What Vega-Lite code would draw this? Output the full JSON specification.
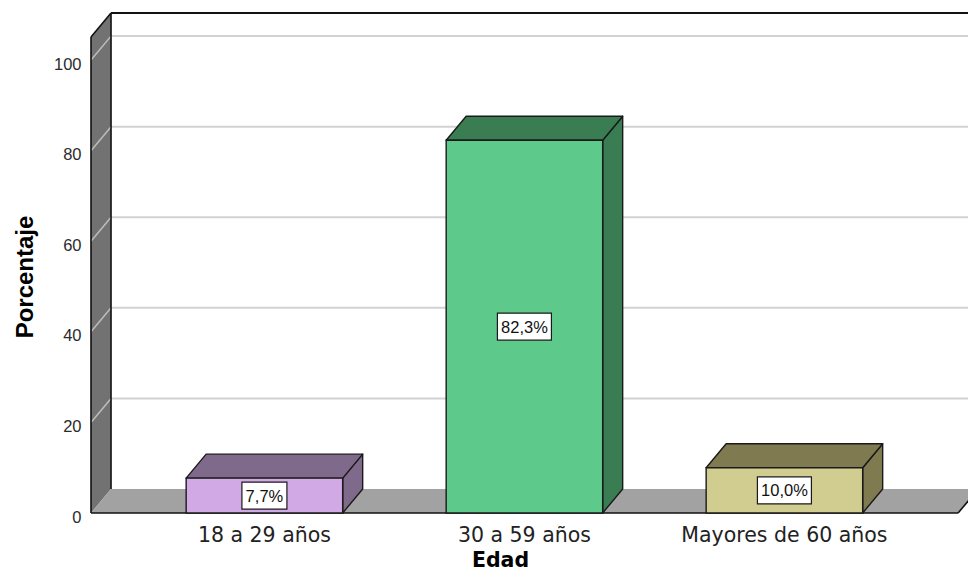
{
  "$schema": "https://vega.github.io/schema/vega-lite/v6.json",
  "width": 877,
  "height": 500,
  "autosize": {"type": "none"},
  "padding": {"left": 91, "top": 13, "right": 0, "bottom": 58},
  "background": "white",
  "config": {"view": {"stroke": null}},
  "resolve": {"axis": {"x": "independent", "y": "independent"}},
  "params": [
    {"name": "dx", "value": 0.07692},
    {"name": "dz", "value": 5.298},
    {"name": "hw", "value": 0.301},
    {"name": "x0", "value": -0.667}
  ],
  "datasets": {
    "edad": [
      {"edad": "18 a 29 años", "pct": 7.7},
      {"edad": "30 a 59 años", "pct": 82.3},
      {"edad": "Mayores de 60 años", "pct": 10.0}
    ],
    "grid": [{"v": 20}, {"v": 40}, {"v": 60}, {"v": 80}, {"v": 100}]
  },
  "layer": [
    {
      "description": "left wall",
      "data": {"values": [{}]},
      "transform": [
        {"calculate": "0", "as": "f"},
        {"calculate": "1", "as": "b"},
        {"fold": ["f", "b"], "as": ["face", "k"]},
        {"calculate": "x0 + datum.k * dx", "as": "wx"},
        {"calculate": "datum.k * dz", "as": "wy"},
        {"calculate": "105.1 + datum.k * dz", "as": "wy2"}
      ],
      "mark": {"type": "area", "orient": "vertical", "color": "#727272"},
      "encoding": {
        "x": {
          "field": "wx", "type": "quantitative",
          "scale": {"domain": [-0.667, 2.7061], "nice": false, "zero": false},
          "axis": {
            "title": "Edad", "labels": false, "ticks": false, "domain": false, "grid": false,
            "titleX": 409, "titleY": 53, "titleBaseline": "alphabetic", "titleAlign": "center",
            "titleFont": "DejaVu Sans", "titleFontSize": 20.5, "titleFontWeight": "bold", "titleColor": "#000000"
          }
        },
        "y": {
          "field": "wy", "type": "quantitative",
          "scale": {"domain": [0, 110.4], "nice": false, "zero": true},
          "axis": {
            "title": "Porcentaje", "values": [0, 20, 40, 60, 80, 100],
            "ticks": false, "domain": false, "grid": false,
            "labelFont": "Liberation Sans", "labelFontSize": 16.5, "labelColor": "#2b2b2b",
            "labelPadding": 10, "labelOffset": 4,
            "titleFont": "Liberation Sans", "titleFontSize": 24, "titleFontWeight": "bold",
            "titleColor": "#000000", "titleX": -58.5, "titleY": 263.5, "titleAngle": 270,
            "titleBaseline": "alphabetic", "titleAlign": "center"
          }
        },
        "y2": {"field": "wy2"}
      }
    },
    {
      "description": "floor",
      "data": {"values": [{}]},
      "transform": [
        {"calculate": "0", "as": "f"},
        {"calculate": "1", "as": "b"},
        {"fold": ["f", "b"], "as": ["face", "k"]},
        {"calculate": "x0 + datum.k * dx", "as": "fx"},
        {"calculate": "2.668 + datum.k * dx", "as": "fx2"},
        {"calculate": "datum.k * dz", "as": "fy"}
      ],
      "mark": {"type": "area", "orient": "horizontal", "color": "#a2a2a2"},
      "encoding": {
        "y": {"field": "fy", "type": "quantitative", "axis": null},
        "x": {"field": "fx", "type": "quantitative", "axis": null},
        "x2": {"field": "fx2"}
      }
    },
    {
      "description": "gridlines on the back wall",
      "data": {"name": "grid"},
      "transform": [{"calculate": "datum.v + dz", "as": "gy"}],
      "mark": {"type": "rule", "color": "#d2d2d2", "strokeWidth": 2},
      "encoding": {
        "x": {"datum": -0.59, "type": "quantitative", "axis": null},
        "x2": {"datum": 2.9},
        "y": {"field": "gy", "type": "quantitative", "axis": null}
      }
    },
    {
      "description": "gridlines across the left wall",
      "data": {"name": "grid"},
      "transform": [{"calculate": "datum.v + dz", "as": "gy"}],
      "mark": {"type": "rule", "color": "#bdbdbd", "strokeWidth": 1.5},
      "encoding": {
        "x": {"datum": -0.667, "type": "quantitative", "axis": null},
        "x2": {"datum": -0.59},
        "y": {"field": "v", "type": "quantitative", "axis": null},
        "y2": {"field": "gy"}
      }
    },
    {
      "data": {"values": [{}]},
      "mark": {"type": "rule", "color": "#111111", "strokeWidth": 1.6},
      "encoding": {
        "x": {"datum": -0.667, "type": "quantitative", "axis": null},
        "y": {"datum": 0, "type": "quantitative", "axis": null},
        "y2": {"datum": 105.1}
      }
    },
    {
      "data": {"values": [{}]},
      "mark": {"type": "rule", "color": "#111111", "strokeWidth": 1.6},
      "encoding": {
        "x": {"datum": -0.59, "type": "quantitative", "axis": null},
        "y": {"datum": 5.298, "type": "quantitative", "axis": null},
        "y2": {"datum": 110.4}
      }
    },
    {
      "data": {"values": [{}]},
      "mark": {"type": "rule", "color": "#111111", "strokeWidth": 1.6},
      "encoding": {
        "x": {"datum": -0.667, "type": "quantitative", "axis": null},
        "x2": {"datum": -0.59},
        "y": {"datum": 105.1, "type": "quantitative", "axis": null},
        "y2": {"datum": 110.4}
      }
    },
    {
      "data": {"values": [{}]},
      "mark": {"type": "rule", "color": "#111111", "strokeWidth": 2},
      "encoding": {
        "x": {"datum": -0.59, "type": "quantitative", "axis": null},
        "x2": {"datum": 2.9},
        "y": {"datum": 110.4, "type": "quantitative", "axis": null}
      }
    },
    {
      "data": {"values": [{}]},
      "mark": {"type": "rule", "color": "#111111", "strokeWidth": 1.6},
      "encoding": {
        "x": {"datum": -0.667, "type": "quantitative", "axis": null},
        "x2": {"datum": 2.668},
        "y": {"datum": 0, "type": "quantitative", "axis": null}
      }
    },
    {
      "data": {"values": [{}]},
      "mark": {"type": "rule", "color": "#111111", "strokeWidth": 1.6},
      "encoding": {
        "x": {"datum": 2.668, "type": "quantitative", "axis": null},
        "x2": {"datum": 2.745},
        "y": {"datum": 0, "type": "quantitative", "axis": null},
        "y2": {"datum": 5.298}
      }
    },
    {
      "description": "right side faces of the bars",
      "data": {"name": "edad"},
      "transform": [
        {"window": [{"op": "row_number", "as": "rn"}]},
        {"calculate": "datum.rn - 1", "as": "i"},
        {"calculate": "0", "as": "f"},
        {"calculate": "1", "as": "b"},
        {"fold": ["f", "b"], "as": ["face", "k"]},
        {"calculate": "datum.i + hw + datum.k * dx", "as": "sx"},
        {"calculate": "datum.k * dz", "as": "sy"},
        {"calculate": "datum.pct + datum.k * dz", "as": "sy2"}
      ],
      "mark": {"type": "area", "orient": "vertical", "stroke": "#1a1a1a", "strokeWidth": 1.4, "strokeJoin": "round"},
      "encoding": {
        "x": {"field": "sx", "type": "quantitative", "axis": null},
        "y": {"field": "sy", "type": "quantitative", "axis": null},
        "y2": {"field": "sy2"},
        "color": {
          "field": "edad", "type": "nominal", "legend": null,
          "scale": {"domain": ["18 a 29 años", "30 a 59 años", "Mayores de 60 años"], "range": ["#806a8c", "#3a7d53", "#7f7a50"]}
        }
      }
    },
    {
      "description": "top faces of the bars",
      "data": {"name": "edad"},
      "transform": [
        {"window": [{"op": "row_number", "as": "rn"}]},
        {"calculate": "datum.rn - 1", "as": "i"},
        {"calculate": "0", "as": "f"},
        {"calculate": "1", "as": "b"},
        {"fold": ["f", "b"], "as": ["face", "k"]},
        {"calculate": "datum.i - hw + datum.k * dx", "as": "tx"},
        {"calculate": "datum.i + hw + datum.k * dx", "as": "tx2"},
        {"calculate": "datum.pct + datum.k * dz", "as": "ty"}
      ],
      "mark": {"type": "area", "orient": "horizontal", "stroke": "#1a1a1a", "strokeWidth": 1.4, "strokeJoin": "round"},
      "encoding": {
        "y": {"field": "ty", "type": "quantitative", "axis": null},
        "x": {"field": "tx", "type": "quantitative", "axis": null},
        "x2": {"field": "tx2"},
        "color": {
          "field": "edad", "type": "nominal", "legend": null,
          "scale": {"domain": ["18 a 29 años", "30 a 59 años", "Mayores de 60 años"], "range": ["#806a8c", "#3a7d53", "#7f7a50"]}
        }
      }
    },
    {
      "description": "front faces of the bars",
      "data": {"name": "edad"},
      "transform": [
        {"window": [{"op": "row_number", "as": "rn"}]},
        {"calculate": "datum.rn - 1", "as": "i"},
        {"calculate": "datum.i - hw", "as": "bx"},
        {"calculate": "datum.i + hw", "as": "bx2"}
      ],
      "mark": {"type": "rect", "stroke": "#1a1a1a", "strokeWidth": 1.4},
      "encoding": {
        "x": {"field": "bx", "type": "quantitative", "axis": null},
        "x2": {"field": "bx2"},
        "y": {"field": "pct", "type": "quantitative", "axis": null},
        "y2": {"datum": 0},
        "fill": {
          "field": "edad", "type": "nominal", "legend": null,
          "scale": {"domain": ["18 a 29 años", "30 a 59 años", "Mayores de 60 años"], "range": ["#d1a9e5", "#5dca8c", "#d1cc8f"]}
        }
      }
    },
    {
      "description": "value label boxes",
      "data": {"name": "edad"},
      "transform": [
        {"window": [{"op": "row_number", "as": "rn"}]},
        {"calculate": "datum.rn - 1", "as": "i"},
        {"calculate": "replace(format(datum.pct, '.1f'), '.', ',') + '%'", "as": "lbl"},
        {"calculate": "(4.5 * length(datum.lbl) + 4.5) / 260", "as": "bw"},
        {"calculate": "datum.i - datum.bw", "as": "lx"},
        {"calculate": "datum.i + datum.bw", "as": "lx2"},
        {"calculate": "datum.pct / 2 - 2.98", "as": "ly"},
        {"calculate": "datum.pct / 2 + 2.98", "as": "ly2"}
      ],
      "mark": {"type": "rect", "fill": "#ffffff", "stroke": "#1a1a1a", "strokeWidth": 1.2},
      "encoding": {
        "x": {"field": "lx", "type": "quantitative", "axis": null},
        "x2": {"field": "lx2"},
        "y": {"field": "ly", "type": "quantitative", "axis": null},
        "y2": {"field": "ly2"}
      }
    },
    {
      "description": "value labels",
      "data": {"name": "edad"},
      "transform": [
        {"window": [{"op": "row_number", "as": "rn"}]},
        {"calculate": "datum.rn - 1", "as": "i"},
        {"calculate": "replace(format(datum.pct, '.1f'), '.', ',') + '%'", "as": "lbl"},
        {"calculate": "datum.pct / 2", "as": "mid"}
      ],
      "mark": {"type": "text", "font": "Liberation Sans", "fontSize": 16.5, "color": "#111111", "baseline": "middle", "align": "center", "dy": 1},
      "encoding": {
        "x": {"field": "i", "type": "quantitative", "axis": null},
        "y": {"field": "mid", "type": "quantitative", "axis": null},
        "text": {"field": "lbl"}
      }
    },
    {
      "description": "category names under the bars",
      "data": {"name": "edad"},
      "transform": [
        {"window": [{"op": "row_number", "as": "rn"}]},
        {"calculate": "datum.rn - 1", "as": "i"}
      ],
      "mark": {"type": "text", "font": "DejaVu Sans", "fontSize": 20.5, "color": "#222222", "baseline": "alphabetic", "align": "center", "dy": 29},
      "encoding": {
        "x": {"field": "i", "type": "quantitative", "axis": null},
        "y": {"datum": 0, "type": "quantitative", "axis": null},
        "text": {"field": "edad"}
      }
    }
  ]
}
